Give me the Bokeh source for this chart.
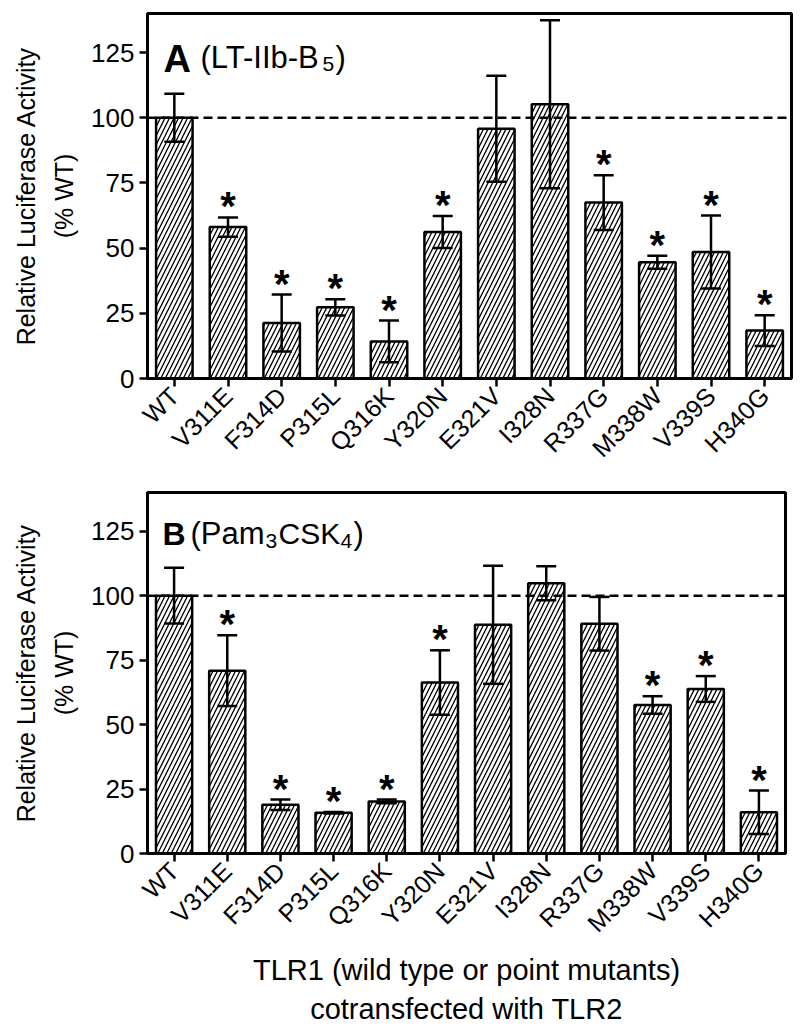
import math
from bokeh.plotting import figure
from bokeh.models import (ColumnDataSource, Span, Label, Whisker, TeeHead,
                          FactorRange, Range1d, FixedTicker)
from bokeh.layouts import column
from bokeh.embed import file_html
from bokeh.resources import INLINE
from bokeh.core.properties import value

# ---------------- data ----------------
mutants = ["WT", "V311E", "F314D", "P315L", "Q316K", "Y320N",
           "E321V", "I328N", "R337G", "M338W", "V339S", "H340G"]

# Panel A: LT-IIb-B5
a_mean = [100.0, 58.1, 21.3, 27.3, 14.2, 56.2, 95.8, 105.2, 67.5, 44.6, 48.5, 18.4]
a_err = [9.2, 3.7, 10.9, 3.1, 8.0, 6.1, 20.3, 32.2, 10.5, 2.5, 14.0, 5.9]
a_sig = [False, True, True, True, True, True, False, False, True, True, True, True]

# Panel B: Pam3CSK4
b_mean = [100.0, 70.9, 18.9, 15.8, 20.2, 66.3, 88.7, 104.8, 89.1, 57.6, 63.8, 16.0]
b_err = [10.8, 13.7, 2.0, 0.3, 0.7, 12.5, 22.9, 6.6, 10.4, 3.4, 5.0, 8.4]
b_sig = [False, True, True, True, True, True, False, False, False, True, True, True]

y_ticks = [0, 25, 50, 75, 100, 125]
y_max = 140
wt_level = 100

y_label = "Relative Luciferase Activity\n(% WT)"
x_label = "TLR1 (wild type or point mutants)\ncotransfected with TLR2"

FONT = "Liberation Sans"

# title pieces: (text, page_x, page_baseline_y, size, bold)
a_title = [("A", 163, 58, 38, True), ("(LT-IIb-B", 200, 57, 31, False),
           ("5", 322, 63, 21, False), (")", 335, 57, 31, False)]
b_title = [("B", 162, 533, 32, True), ("(Pam", 190, 533, 31, False),
           ("3", 265, 540, 21, False), ("CSK", 278, 533, 30, False),
           ("4", 340, 540, 21, False), (")", 353, 533, 31, False)]


def make_panel(mean, err, sig, title, frame_left, frame_top, frame_w, frame_h,
               border_top, border_bottom, border_right, xlabel=None):
    p = figure(x_range=FactorRange(*mutants), y_range=Range1d(0, y_max),
               frame_width=frame_w, frame_height=frame_h,
               min_border_left=frame_left, min_border_top=border_top,
               min_border_bottom=border_bottom, min_border_right=border_right,
               output_backend="svg", toolbar_location=None,
               background_fill_color="white", border_fill_color="white")
    p.grid.visible = False
    p.outline_line_color = "black"
    p.outline_line_width = 3
    p.outline_line_alpha = 1.0

    upper = [m + e for m, e in zip(mean, err)]
    lower = [m - e for m, e in zip(mean, err)]
    src = ColumnDataSource(dict(cat=mutants, mean=mean, upper=upper, lower=lower))

    p.vbar(x="cat", top="mean", width=0.68, source=src,
           fill_color="white", line_color="black", line_width=2.5,
           hatch_pattern="/", hatch_color="black", hatch_scale=9,
           hatch_weight=1.3)

    w = Whisker(source=src, base="cat", upper="upper", lower="lower",
                level="annotation", line_color="black", line_width=2.5,
                upper_head=TeeHead(size=20, line_width=2.5, line_color="black"),
                lower_head=TeeHead(size=20, line_width=2.5, line_color="black"))
    p.add_layout(w)

    p.add_layout(Span(location=wt_level, dimension="width", line_color="black",
                      line_width=2.5, line_dash="9 5", level="annotation"))

    s_cat = [c for c, s in zip(mutants, sig) if s]
    s_y = [u for u, s in zip(upper, sig) if s]
    p.text(x=s_cat, y=s_y, text=["*"] * len(s_cat), text_align="center",
           text_baseline="alphabetic", y_offset=-11,
           text_font=value(FONT), text_font_size="40px",
           text_font_style="bold", text_color="black")

    # axes
    for ax in (p.xaxis[0], p.yaxis[0]):
        ax.axis_line_width = 3
        ax.axis_line_color = "black"
        ax.major_tick_line_width = 2.5
        ax.major_tick_line_color = "black"
        ax.major_tick_out = 8
        ax.major_tick_in = 0
        ax.minor_tick_line_color = None
        ax.major_label_text_font = FONT
        ax.major_label_text_color = "black"
        ax.major_label_standoff = 5
        ax.axis_label_text_font = FONT
        ax.axis_label_text_font_style = "normal"
        ax.axis_label_text_color = "black"
    p.yaxis.major_label_text_font_size = "26px"
    p.xaxis.major_label_text_font_size = "25px"
    p.yaxis.ticker = FixedTicker(ticks=y_ticks)
    p.yaxis.axis_label = y_label
    p.yaxis.axis_label_text_font_size = "25px"
    p.yaxis.axis_label_text_line_height = 1.36
    p.yaxis.axis_label_text_align = "center"
    p.yaxis.axis_label_standoff = 10
    p.xaxis.major_label_orientation = math.pi / 4
    if xlabel:
        p.xaxis.axis_label = xlabel
        p.xaxis.axis_label_text_font_size = "29px"
        p.xaxis.axis_label_text_line_height = 1.22
        p.xaxis.axis_label_text_align = "center"
        p.xaxis.axis_label_standoff = 4

    # panel titles, placed from page pixel positions
    ux = frame_w / len(mutants)
    uy = frame_h / y_max
    frame_bottom = frame_top + frame_h
    for txt, px, py, size, bold in title:
        p.add_layout(Label(x=(px - frame_left) / ux, y=(frame_bottom - py) / uy,
                           text=txt, text_font=FONT, text_font_size=f"{size}px",
                           text_font_style="bold" if bold else "normal",
                           text_color="black", text_align="left",
                           text_baseline="alphabetic"))
    return p


pA = make_panel(a_mean, a_err, a_sig, a_title, 147, 13, 644, 365,
                border_top=13, border_bottom=100, border_right=5)
pB = make_panel(b_mean, b_err, b_sig, b_title, 147, 492, 638, 361,
                border_top=14, border_bottom=150, border_right=11, xlabel=x_label)

layout = column(pA, pB, spacing=0)
open("out.html", "w").write(file_html(layout, INLINE))
